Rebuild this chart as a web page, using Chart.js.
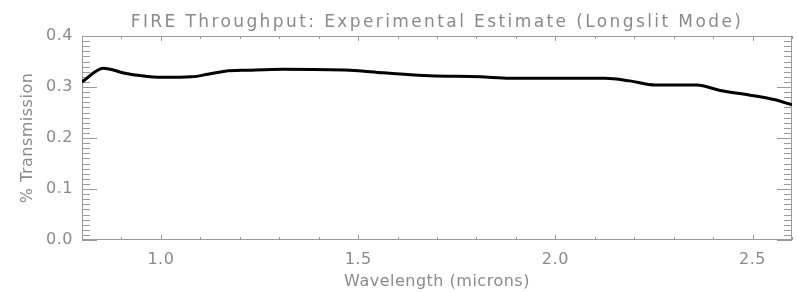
<!DOCTYPE html>
<html lang="en">
<head>
<meta charset="UTF-8">
<title>FIRE Throughput</title>
<script src="https://cdn.jsdelivr.net/npm/chart.js"></script>
<style>
  html, body { margin: 0; padding: 0; background: #fff; }
</style>
</head>
<body>
<canvas id="throughputChart" width="798" height="292"></canvas>
<script>
// values
var wavelength = [0.80, 0.854, 0.909, 0.951, 1.002, 1.078, 1.119, 1.163, 1.221, 1.310, 1.480,
                  1.563, 1.682, 1.809, 1.885, 2.126, 2.189, 2.253, 2.359, 2.418, 2.494, 2.557, 2.60];
var transmission = [0.310, 0.337, 0.327, 0.322, 0.319, 0.320, 0.325, 0.331, 0.333, 0.335, 0.333,
                    0.328, 0.322, 0.320, 0.317, 0.317, 0.312, 0.304, 0.304, 0.293, 0.284, 0.275, 0.265];

var xMajorTicks = [1.0, 1.5, 2.0, 2.5];
var yMajorTicks = [0.0, 0.1, 0.2, 0.3, 0.4];
var xMinorStep = 0.1;
var yMinorStep = 0.01;

var axisColor = '#9a9a9a';
var textColor = '#8a8a8a';

function isMajor(list, v) {
    return list.some(function(m) { return Math.abs(m - v) < 1e-6; });
}

// IDL style box with inward ticks on all four sides.
// Also handles the wide letter spacing of the vector font:
// the plot title (top axis) is drawn before the datasets, axis text after them (z: 1).
var boxTicks = {
    id: 'boxTicks',
    beforeDraw: function(chart) {
        chart.ctx.letterSpacing = '2.4px';
    },
    beforeDatasetsDraw: function(chart) {
        var ctx = chart.ctx;
        var a = chart.chartArea;
        var xs = chart.scales.x;
        var ys = chart.scales.y;
        ctx.save();
        ctx.strokeStyle = axisColor;
        ctx.lineWidth = 1;
        ctx.beginPath();
        for (var i = 0; ; i++) {
            var v = xs.min + i * xMinorStep;
            if (v > xs.max + 1e-6) break;
            var len = isMajor(xMajorTicks, v) ? 5 : 3;
            var px = Math.round(xs.getPixelForValue(v)) + 0.5;
            ctx.moveTo(px, a.bottom);
            ctx.lineTo(px, a.bottom - len);
            ctx.moveTo(px, a.top);
            ctx.lineTo(px, a.top + len);
        }
        for (var j = 0; ; j++) {
            var w = ys.min + j * yMinorStep;
            if (w > ys.max + 1e-6) break;
            var l2 = isMajor(yMajorTicks, w) ? 15 : 8;
            var py = Math.round(ys.getPixelForValue(w)) + 0.5;
            ctx.moveTo(a.left, py);
            ctx.lineTo(a.left + l2, py);
            ctx.moveTo(a.right, py);
            ctx.lineTo(a.right - l2, py);
        }
        ctx.stroke();
        ctx.strokeRect(a.left + 0.5, a.top + 0.5, a.right - a.left - 1, a.bottom - a.top - 1);
        ctx.restore();
        ctx.letterSpacing = '0.5px';
    }
};

var axisFont = { family: 'DejaVu Sans', size: 16 };

var ctx = document.getElementById('throughputChart').getContext('2d');
var chart = new Chart(ctx, {
    type: 'line',
    data: {
        datasets: [{
            data: wavelength.map(function(x, i) { return { x: x, y: transmission[i] }; }),
            borderColor: '#000',
            borderWidth: 3,
            pointRadius: 0,
            cubicInterpolationMode: 'monotone',
            fill: false
        }]
    },
    options: {
        responsive: false,
        animation: false,
        devicePixelRatio: 1,
        layout: { padding: { left: 0, right: 6, top: 0, bottom: 0 } },
        plugins: {
            legend: { display: false },
            tooltip: { enabled: false }
        },
        scales: {
            x: {
                type: 'linear',
                min: 0.8,
                max: 2.6,
                grid: { display: false, drawTicks: false, z: 1 },
                border: { display: false },
                afterBuildTicks: function(axis) {
                    axis.ticks = xMajorTicks.map(function(v) { return { value: v }; });
                },
                afterFit: function(axis) { axis.height = 52; },
                ticks: {
                    z: 1,
                    color: textColor,
                    padding: 10,
                    maxRotation: 0,
                    font: axisFont,
                    callback: function(v) { return v.toFixed(1); }
                },
                title: {
                    display: true,
                    text: 'Wavelength (microns)',
                    color: textColor,
                    font: axisFont,
                    padding: { top: 0, bottom: 0.5 }
                }
            },
            // top axis only carries the plot title, centred over the plot box
            xTop: {
                type: 'linear',
                position: 'top',
                min: 0.8,
                max: 2.6,
                grid: { display: false, drawTicks: false },
                border: { display: false },
                ticks: { display: false },
                afterFit: function(axis) { axis.height = 36; },
                title: {
                    display: true,
                    text: 'FIRE Throughput: Experimental Estimate (Longslit Mode)',
                    color: textColor,
                    font: { family: 'DejaVu Sans', size: 17 },
                    padding: { top: 12, bottom: 0 }
                }
            },
            y: {
                min: 0,
                max: 0.4,
                grid: { display: false, drawTicks: false, z: 1 },
                border: { display: false },
                afterBuildTicks: function(axis) {
                    axis.ticks = yMajorTicks.map(function(v) { return { value: v }; });
                },
                afterFit: function(axis) { axis.width = 82; },
                ticks: {
                    z: 1,
                    color: textColor,
                    padding: 9,
                    font: axisFont,
                    callback: function(v) { return v.toFixed(1); }
                },
                title: {
                    display: true,
                    text: '% Transmission',
                    color: textColor,
                    font: axisFont,
                    padding: { top: 18, bottom: 0 }
                }
            }
        }
    },
    plugins: [boxTicks]
});
</script>
</body>
</html>
